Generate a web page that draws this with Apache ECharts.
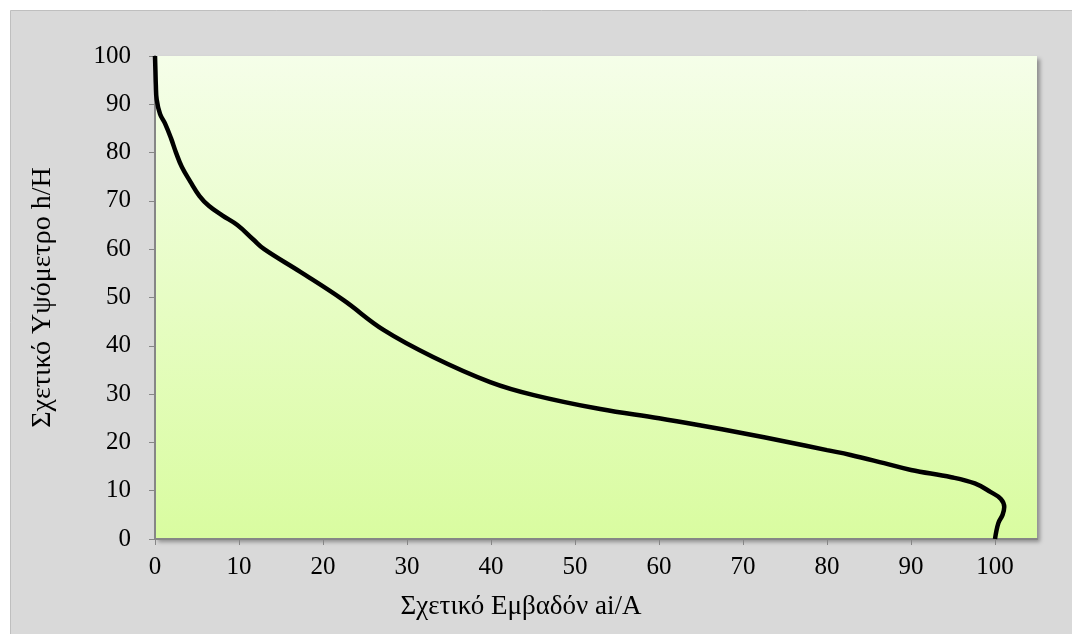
<!DOCTYPE html>
<html>
<head>
<meta charset="utf-8">
<script src="https://cdn.jsdelivr.net/npm/echarts@6/dist/echarts.min.js"></script>
<style>
html,body{margin:0;padding:0;background:#ffffff;}
#chart{width:1072px;height:634px;}
</style>
</head>
<body>
<div id="chart"></div>
<script>
// Relative area (x, %) and relative height (y, %)
const areaValues   = [100, 100.4, 100.9, 101.1, 100.7, 99.5, 97.6, 94.8, 90, 86.8, 82.8, 80, 75, 70, 65, 60, 53, 45.1, 39.9, 33.1, 27.2, 22.4, 17.3, 13.0, 11.7, 9.8, 8.0, 6.4, 5.3, 4.2, 3.2, 2.5, 1.9, 1.2, 0.6, 0.2, 0.1, 0.05, 0];
const heightValues = [0, 3.3, 5.0, 6.6, 8.3, 9.7, 11.5, 12.8, 14.3, 15.7, 17.4, 18.4, 20.2, 21.9, 23.5, 25.0, 26.9, 29.8, 32.5, 37.7, 43.3, 49.5, 55.3, 60.0, 62.0, 65.0, 67.0, 69.0, 71.0, 74.0, 77.0, 80.0, 83.0, 86.0, 88.0, 91.0, 94.0, 97.0, 100];
const xTickValues = [0, 10, 20, 30, 40, 50, 60, 70, 80, 90, 100];
const yTickValues = [0, 10, 20, 30, 40, 50, 60, 70, 80, 90, 100];
const xTitle = 'Σχετικό Εμβαδόν ai/A';
const yTitle = 'Σχετικό Υψόμετρο h/H';

const curve = areaValues.map((v, i) => [v, heightValues[i]]);
const fontFam = '"Liberation Serif", "DejaVu Serif", serif';

const chart = echarts.init(document.getElementById('chart'), null, {renderer: 'canvas'});
chart.setOption({
  animation: false,
  backgroundColor: '#ffffff',
  graphic: [{
    type: 'rect', z: -10, silent: true,
    shape: {x: 10.5, y: 10.5, width: 1100, height: 660},
    style: {fill: '#d9d9d9', stroke: '#bfbfbf', lineWidth: 1}
  }],
  grid: {
    left: 155, top: 56, right: 35, bottom: 95,
    show: true, borderWidth: 0,
    backgroundColor: new echarts.graphic.LinearGradient(0, 0, 0, 1, [
      {offset: 0, color: '#f5fee9'},
      {offset: 1, color: '#d9fca0'}
    ]),
    shadowColor: 'rgba(0,0,0,0.35)', shadowBlur: 4, shadowOffsetX: 3, shadowOffsetY: 3
  },
  xAxis: {
    type: 'value', min: 0, max: 105, interval: 10,
    name: xTitle, nameLocation: 'middle', nameGap: 54,
    nameTextStyle: {fontFamily: fontFam, fontSize: 27, color: '#000', padding: [0, 150, 0, 0]},
    axisLine: {show: true, onZero: false, lineStyle: {color: '#868686', width: 2}},
    axisTick: {show: true, length: 6, lineStyle: {color: '#868686', width: 1}, customValues: xTickValues},
    axisLabel: {fontFamily: fontFam, fontSize: 25, color: '#000', margin: 16, customValues: xTickValues},
    splitLine: {show: false}
  },
  yAxis: {
    type: 'value', min: 0, max: 100, interval: 10,
    name: yTitle, nameLocation: 'middle', nameGap: 98, nameRotate: 90,
    nameTextStyle: {fontFamily: fontFam, fontSize: 28, color: '#000'},
    axisLine: {show: true, onZero: false, lineStyle: {color: '#868686', width: 2}},
    axisTick: {show: true, length: 6, lineStyle: {color: '#868686', width: 1}},
    axisLabel: {fontFamily: fontFam, fontSize: 25, color: '#000', margin: 24, customValues: yTickValues},
    splitLine: {show: false}
  },
  series: [{
    type: 'line', data: curve, smooth: 0.4, showSymbol: false, clip: false,
    lineStyle: {color: '#000000', width: 4.5}
  }]
});
</script>
</body>
</html>
